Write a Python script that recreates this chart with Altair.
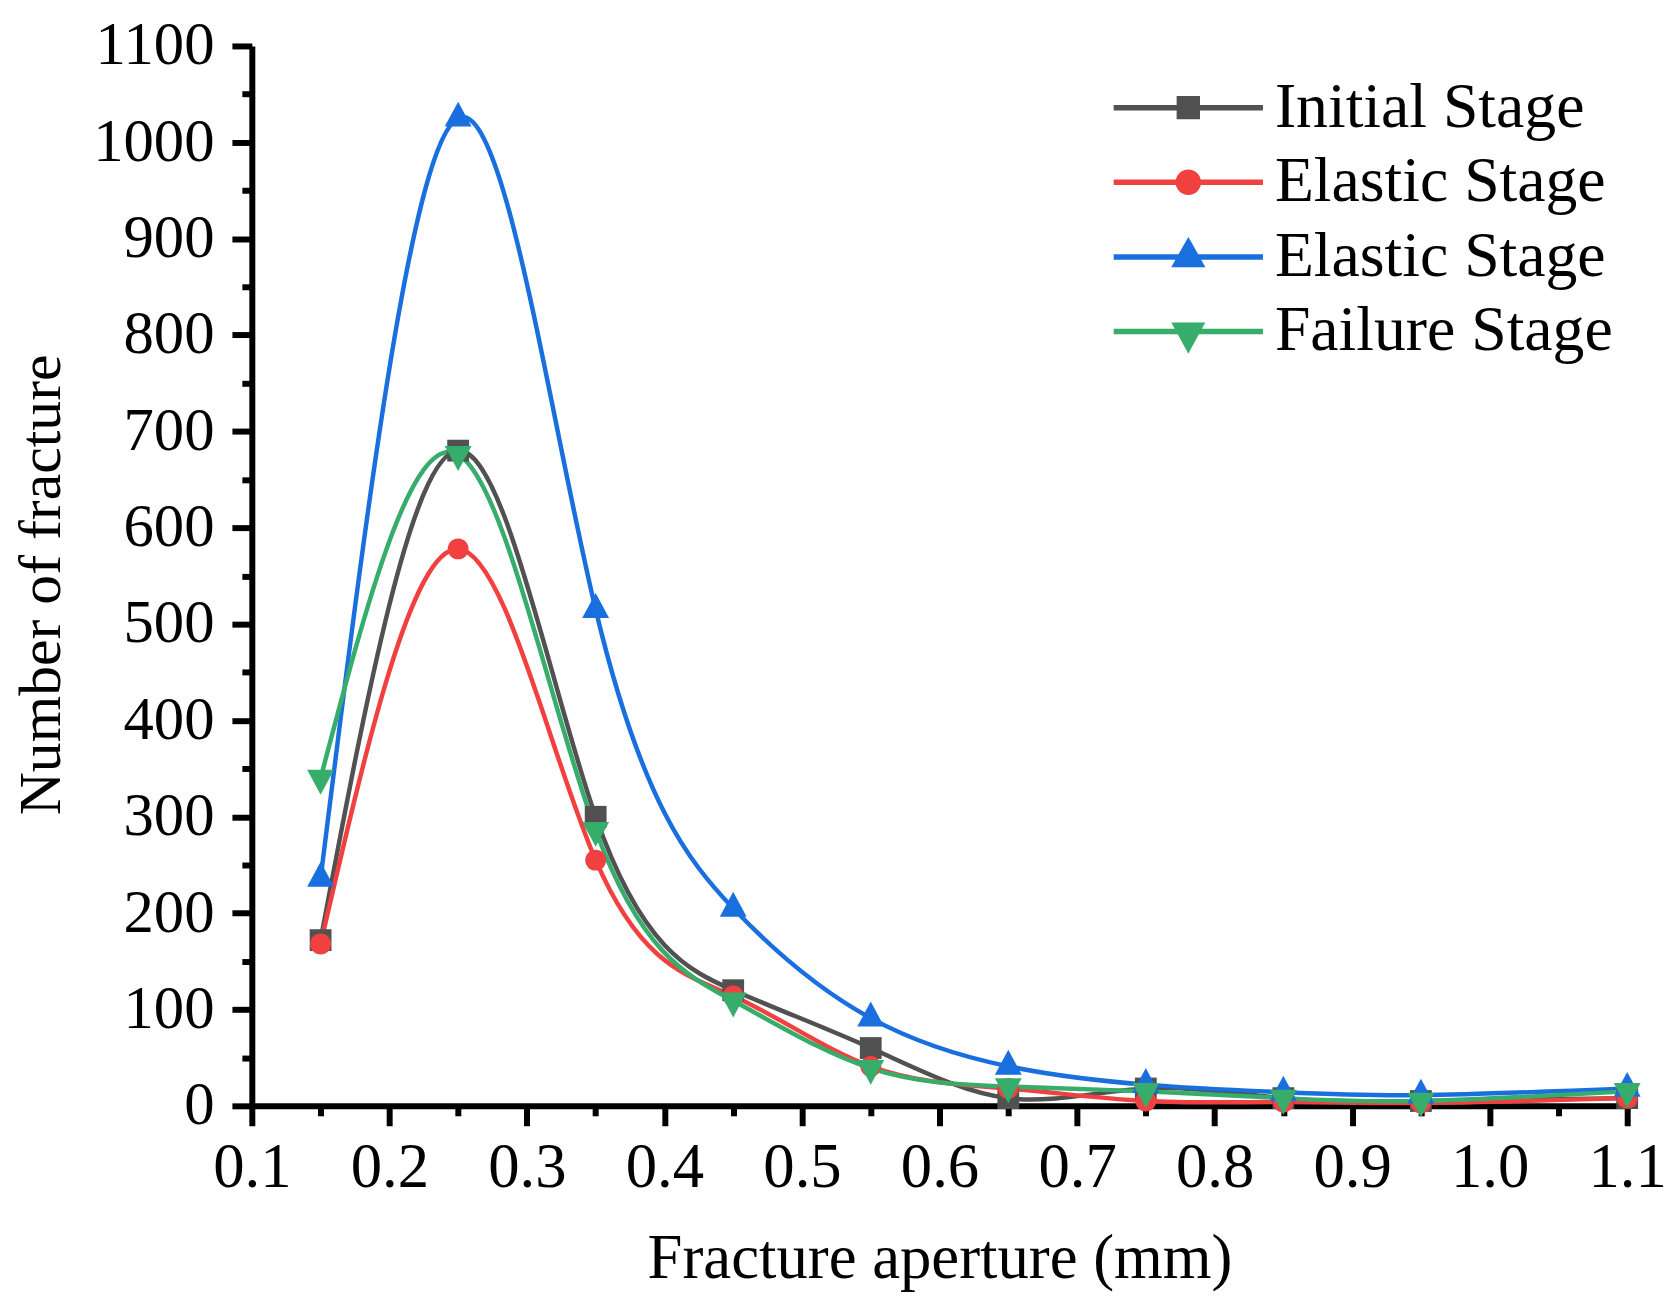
import altair as alt
import pandas as pd

# ---- data ----
aperture = [0.15, 0.25, 0.35, 0.45, 0.55, 0.65, 0.75, 0.85, 0.95, 1.1]
initial_stage = [172, 680, 300, 120, 60, 8, 18, 8, 5, 8]
elastic_stage_a = [168, 578, 255, 114, 41, 18, 5, 4, 3, 8]
elastic_stage_b = [236, 1025, 515, 205, 91, 41, 22, 14, 11, 18]
failure_stage = [340, 676, 286, 109, 39, 20, 15, 8, 5, 15]

series_keys = ["s1", "s2", "s3", "s4"]
series_labels = ["Initial Stage", "Elastic Stage", "Elastic Stage", "Failure Stage"]
series_colors = ["#515151", "#F14040", "#1A6FDF", "#37AD6B"]

x_major = [0.1, 0.2, 0.3, 0.4, 0.5, 0.6, 0.7, 0.8, 0.9, 1.0, 1.1]
x_minor = [0.15, 0.25, 0.35, 0.45, 0.55, 0.65, 0.75, 0.85, 0.95, 1.05]
y_major = list(range(0, 1101, 100))
y_minor = list(range(50, 1100, 100))

# marker shapes (custom paths, unit scaled by sqrt(size)/2)
marker_paths = [
    "M-0.73,-0.73L0.73,-0.73L0.73,0.73L-0.73,0.73Z",
    "M0.7,0A0.7,0.7,0,1,1,-0.7,0A0.7,0.7,0,1,1,0.7,0Z",
    "M0,-1.11L0.9,0.56L-0.9,0.56Z",
    "M0,1.11L0.9,-0.56L-0.9,-0.56Z",
]
legend_paths = [
    "M-5,0L5,0M-0.6,-0.6L0.6,-0.6L0.6,0.6L-0.6,0.6Z",
    "M-5,0L5,0M0.67,0A0.67,0.67,0,1,1,-0.67,0A0.67,0.67,0,1,1,0.67,0Z",
    "M-5,0L5,0M0,-0.97L0.83,0.5L-0.83,0.5Z",
    "M-5,0L5,0M0,1.1L0.83,-0.43L-0.83,-0.43Z",
]

rows = []
for key, vals in zip(series_keys, [initial_stage, elastic_stage_a, elastic_stage_b, failure_stage]):
    for xv, yv in zip(aperture, vals):
        rows.append({"aperture": xv, "count": yv, "series": key})
df = pd.DataFrame(rows)

FONT = "Liberation Serif"
label_map = "{" + ",".join(f"'{k}':'{l}'" for k, l in zip(series_keys, series_labels)) + "}"

x_scale = alt.Scale(domain=[0.1, 1.1], nice=False, zero=False)
y_scale = alt.Scale(domain=[0, 1100], nice=False, zero=False)

x_axis_major = alt.Axis(
    values=x_major, format=".1f", orient="bottom", grid=False,
    labelFont=FONT, labelFontSize=63, labelColor="black", labelPadding=11,
    labelFlush=False, labelOverlap=False,
    tickSize=20, tickWidth=6, tickColor="black",
    domainWidth=6, domainColor="black",
    title="Fracture aperture (mm)", titleFont=FONT, titleFontSize=63,
    titleFontWeight="normal", titleColor="black", titlePadding=28,
)
y_axis_major = alt.Axis(
    values=y_major, format="d", orient="left", grid=False,
    labelFont=FONT, labelFontSize=61, labelColor="black", labelPadding=18,
    labelOverlap=False, labelFlush=False,
    tickSize=20, tickWidth=6, tickColor="black",
    domainWidth=6, domainColor="black",
    title="Number of fracture", titleFont=FONT, titleFontSize=60,
    titleFontWeight="normal", titleColor="black", titlePadding=20, titleY=541,
)
x_axis_minor = alt.Axis(
    values=x_minor, orient="bottom", labels=False, domain=False, grid=False,
    tickSize=10, tickWidth=6, tickColor="black", title=None,
)
y_axis_minor = alt.Axis(
    values=y_minor, orient="left", labels=False, domain=False, grid=False,
    tickSize=10, tickWidth=6, tickColor="black", title=None,
)

base = alt.Chart(df)

lines = base.mark_line(interpolate="natural", strokeWidth=4.5).encode(
    x=alt.X("aperture:Q", scale=x_scale, axis=x_axis_major),
    y=alt.Y("count:Q", scale=y_scale, axis=y_axis_major),
    color=alt.Color("series:N", scale=alt.Scale(domain=series_keys, range=series_colors), legend=None),
    order=alt.Order("aperture:Q"),
)

points = base.mark_point(filled=True, size=900, opacity=1).encode(
    x=alt.X("aperture:Q", scale=x_scale, axis=x_axis_minor),
    y=alt.Y("count:Q", scale=y_scale, axis=y_axis_minor),
    color=alt.Color("series:N", scale=alt.Scale(domain=series_keys, range=series_colors), legend=None),
    shape=alt.Shape("series:N", scale=alt.Scale(domain=series_keys, range=marker_paths), legend=None),
)

legend_def = dict(
    orient="none", legendX=909, legendY=30, title=None, padding=0,
    labelFont=FONT, labelFontSize=64, labelColor="black", labelOffset=55,
    labelLimit=0, symbolOpacity=1,
    symbolSize=900, symbolStrokeWidth=5.5, rowPadding=11,
    labelExpr=f"{label_map}[datum.label]",
)

legend_layer = base.transform_filter("false").mark_point(filled=True, size=900, opacity=1).encode(
    x=alt.X("aperture:Q", scale=x_scale, axis=None),
    y=alt.Y("count:Q", scale=y_scale, axis=None),
    color=alt.Color("series:N", scale=alt.Scale(domain=series_keys, range=series_colors),
                    legend=alt.Legend(**legend_def)),
    stroke=alt.Stroke("series:N", scale=alt.Scale(domain=series_keys, range=series_colors),
                      legend=alt.Legend(**legend_def)),
    shape=alt.Shape("series:N", scale=alt.Scale(domain=series_keys, range=legend_paths),
                    legend=alt.Legend(**legend_def)),
)

chart = alt.layer(lines, points, legend_layer).resolve_scale(
    color="independent", shape="independent", stroke="independent"
).resolve_axis(
    x="independent", y="independent"
).properties(
    width=1382, height=1065,
    autosize=alt.AutoSizeParams(type="none"),
    padding={"left": 245, "top": 35, "right": 42, "bottom": 197},
    background="white",
).configure_view(stroke=None)

chart.save("out.html", embed_options={"renderer": "svg", "actions": False})
